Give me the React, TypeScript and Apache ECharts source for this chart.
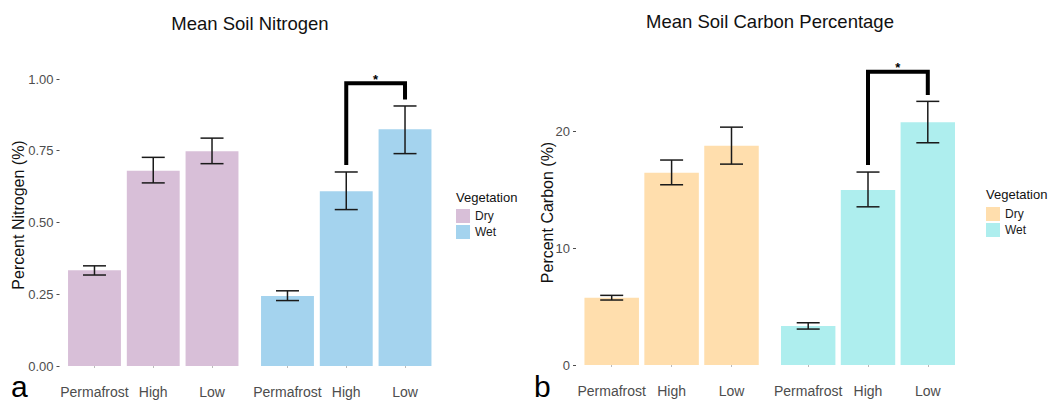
import React, { useEffect, useRef } from 'react';
import * as echarts from 'echarts';

const categories = ['Permafrost', 'High', 'Low'];
const groups = ['Dry', 'Wet'];

const nitrogenTicks = [0, 0.25, 0.5, 0.75, 1.0];
const nitrogenDry = [0.334, 0.68, 0.748];
const nitrogenDryLo = [0.317, 0.638, 0.705];
const nitrogenDryHi = [0.349, 0.727, 0.794];
const nitrogenWet = [0.244, 0.609, 0.825];
const nitrogenWetLo = [0.228, 0.545, 0.74];
const nitrogenWetHi = [0.262, 0.676, 0.906];
// significance bracket: [fromIndex, toIndex, leftLegBottom, top, rightLegBottom]
const nitrogenBracket = [1, 2, 0.7, 0.985, 0.929];

const carbonTicks = [0, 10, 20];
const carbonDry = [5.77, 16.48, 18.79];
const carbonDryLo = [5.57, 15.45, 17.22];
const carbonDryHi = [5.97, 17.57, 20.39];
const carbonWet = [3.34, 15.0, 20.8];
const carbonWetLo = [3.08, 13.56, 19.05];
const carbonWetHi = [3.62, 16.54, 22.6];
const carbonBracket = [1, 2, 17.14, 25.13, 23.14];

const FONT = '"Liberation Sans", Arial, sans-serif';
const COLORS = {
  nDry: '#D8BFD8',
  nWet: '#A4D3EE',
  cDry: '#FFDEAD',
  cWet: '#AEEEEE',
};

function errorSeries(idx: number, lo: number[], hi: number[]) {
  return {
    type: 'custom',
    xAxisIndex: idx,
    yAxisIndex: idx,
    z: 5,
    silent: true,
    data: categories.map((_, i) => [i, lo[i], hi[i]]),
    renderItem: (_params: any, api: any) => {
      const x = api.value(0);
      const p1 = api.coord([x, api.value(1)]);
      const p2 = api.coord([x, api.value(2)]);
      const hw = 11.5;
      const style = { stroke: '#1a1a1a', lineWidth: 1.5, fill: null };
      return {
        type: 'group',
        children: [
          { type: 'line', shape: { x1: p1[0], y1: p1[1], x2: p2[0], y2: p2[1] }, style },
          { type: 'line', shape: { x1: p1[0] - hw, y1: p1[1], x2: p1[0] + hw, y2: p1[1] }, style },
          { type: 'line', shape: { x1: p2[0] - hw, y1: p2[1], x2: p2[0] + hw, y2: p2[1] }, style },
        ],
      };
    },
  };
}

function bracketSeries(idx: number, b: number[]) {
  return {
    type: 'custom',
    xAxisIndex: idx,
    yAxisIndex: idx,
    z: 6,
    silent: true,
    clip: false,
    data: [b],
    renderItem: (_params: any, api: any) => {
      const a = api.coord([api.value(0), api.value(2)]);
      const t1 = api.coord([api.value(0), api.value(3)]);
      const t2 = api.coord([api.value(1), api.value(3)]);
      const d = api.coord([api.value(1), api.value(4)]);
      return {
        type: 'group',
        children: [
          {
            type: 'polyline',
            shape: { points: [a, t1, t2, d] },
            style: { stroke: '#000', lineWidth: 4, fill: null, lineJoin: 'miter', lineCap: 'butt' },
          },
          {
            type: 'text',
            style: {
              text: '*',
              x: (t1[0] + t2[0]) / 2,
              y: t1[1] - 4,
              align: 'center',
              verticalAlign: 'middle',
              fontSize: 13,
              fontWeight: 'bold',
              fontFamily: FONT,
              fill: '#000',
            },
          },
        ],
      };
    },
  };
}

function barSeries(name: string, idx: number, data: number[], color: string, width: string) {
  return {
    type: 'bar',
    name,
    xAxisIndex: idx,
    yAxisIndex: idx,
    data,
    barWidth: width,
    itemStyle: { color },
    z: 2,
  };
}

function xAxis(idx: number) {
  return {
    type: 'category',
    gridIndex: idx,
    data: categories,
    offset: 15,
    axisLine: { show: false },
    axisTick: { show: true, length: 2, alignWithLabel: true, lineStyle: { color: '#bbbbbb', width: 1 } },
    axisLabel: { fontSize: 14, color: '#4d4d4d', margin: 4, fontFamily: FONT, interval: 0 },
    splitLine: { show: false },
  };
}

function yAxis(idx: number, max: number, ticks: number[], show: boolean, offset: number, fmt: (v: number) => string) {
  return {
    type: 'value',
    gridIndex: idx,
    min: 0,
    max,
    show,
    offset,
    axisLine: { show: false },
    splitLine: { show: false },
    axisTick: { show: true, length: 3, customValues: ticks, lineStyle: { color: '#4d4d4d', width: 1 } },
    axisLabel: {
      show: true,
      customValues: ticks,
      fontSize: 13,
      color: '#4d4d4d',
      margin: 6,
      fontFamily: FONT,
      formatter: (v: number) => fmt(v),
    },
  };
}

function textEl(text: string, x: number, y: number, fontSize: number, extra: any = {}) {
  return {
    type: 'text',
    x,
    y,
    silent: true,
    ...(extra.rotation !== undefined ? { rotation: extra.rotation } : {}),
    style: {
      text,
      fontSize,
      fontFamily: FONT,
      fill: extra.fill || '#111111',
      align: extra.align || 'center',
      verticalAlign: 'middle',
    },
  };
}

export default function App() {
  const ref = useRef<HTMLDivElement>(null);
  useEffect(() => {
    document.body.style.margin = '0';
    if (!ref.current) return;
    const chart = echarts.init(ref.current, undefined, { renderer: 'svg' });
    const option: any = {
      animation: false,
      backgroundColor: '#ffffff',
      textStyle: { fontFamily: FONT },
      grid: [
        { left: 65.1, width: 176.3, top: 64.65, bottom: 35 },
        { left: 258.1, width: 176.3, top: 64.65, bottom: 35 },
        { left: 581.75, width: 179.7, top: 61.7, bottom: 36 },
        { left: 778.3, width: 179.4, top: 61.7, bottom: 36 },
      ],
      xAxis: [xAxis(0), xAxis(1), xAxis(2), xAxis(3)],
      yAxis: [
        yAxis(0, 1.05, nitrogenTicks, true, 5.6, (v) => v.toFixed(2)),
        yAxis(1, 1.05, nitrogenTicks, false, 0, (v) => v.toFixed(2)),
        yAxis(2, 26, carbonTicks, true, 5.75, (v) => String(v)),
        yAxis(3, 26, carbonTicks, false, 0, (v) => String(v)),
      ],
      legend: [
        {
          orient: 'vertical',
          left: 456,
          top: 209,
          padding: 0,
          itemWidth: 14,
          itemHeight: 14,
          itemGap: 2,
          icon: 'rect',
          selectedMode: false,
          textStyle: { fontSize: 12, color: '#1a1a1a', fontFamily: FONT },
          data: [
            { name: groups[0], itemStyle: { color: COLORS.nDry } },
            { name: groups[1], itemStyle: { color: COLORS.nWet } },
          ],
        },
        {
          orient: 'vertical',
          left: 986,
          top: 207,
          padding: 0,
          itemWidth: 14,
          itemHeight: 14,
          itemGap: 2,
          icon: 'rect',
          selectedMode: false,
          textStyle: { fontSize: 12, color: '#1a1a1a', fontFamily: FONT },
          data: [
            { name: groups[0], itemStyle: { color: COLORS.cDry } },
            { name: groups[1], itemStyle: { color: COLORS.cWet } },
          ],
        },
      ],
      graphic: [
        textEl('Mean Soil Nitrogen', 250, 23.6, 18.5),
        textEl('Mean Soil Carbon Percentage', 770, 21, 18.5),
        textEl('Percent Nitrogen (%)', 18.5, 215, 16, { rotation: Math.PI / 2 }),
        textEl('Percent Carbon (%)', 547, 212.5, 16, { rotation: Math.PI / 2 }),
        textEl('Vegetation', 456, 197.5, 13, { align: 'left' }),
        textEl('Vegetation', 986, 194.8, 13, { align: 'left' }),
        textEl('a', 11, 386, 30, { align: 'left', fill: '#000' }),
        textEl('b', 534, 386, 30, { align: 'left', fill: '#000' }),
      ],
      series: [
        barSeries(groups[0], 0, nitrogenDry, COLORS.nDry, '90%'),
        barSeries(groups[1], 1, nitrogenWet, COLORS.nWet, '90%'),
        barSeries(groups[0], 2, carbonDry, COLORS.cDry, '91%'),
        barSeries(groups[1], 3, carbonWet, COLORS.cWet, '91%'),
        errorSeries(0, nitrogenDryLo, nitrogenDryHi),
        errorSeries(1, nitrogenWetLo, nitrogenWetHi),
        errorSeries(2, carbonDryLo, carbonDryHi),
        errorSeries(3, carbonWetLo, carbonWetHi),
        bracketSeries(1, nitrogenBracket),
        bracketSeries(3, carbonBracket),
      ],
    };
    chart.setOption(option);
    return () => chart.dispose();
  }, []);
  return <div ref={ref} style={{ width: 1050, height: 401 }} />;
}
